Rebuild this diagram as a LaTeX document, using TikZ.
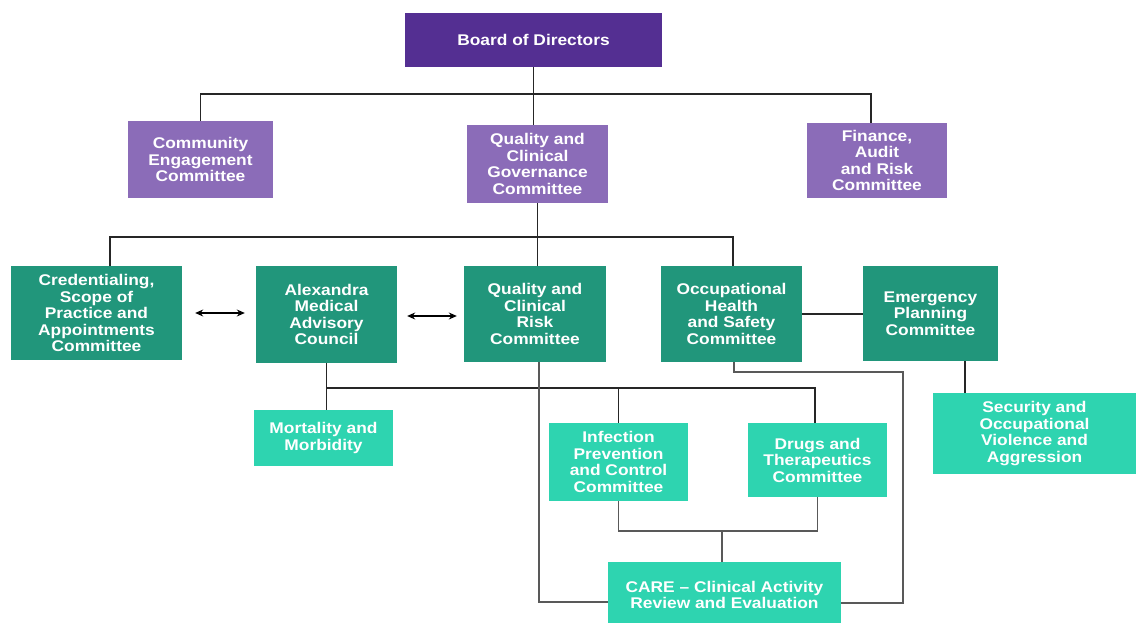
\documentclass[tikz,border=0pt]{standalone}
\usepackage{fontspec}
\setmainfont{Liberation Sans}[FakeStretch=1.12]
\usetikzlibrary{arrows.meta}
\definecolor{boardc}{HTML}{542F92}
\definecolor{lpurple}{HTML}{8B6CB8}
\definecolor{dgreen}{HTML}{21967B}
\definecolor{lgreen}{HTML}{2ED4B0}
\tikzset{
  box/.style={inner sep=0pt, align=center, text=white,
    font=\fontsize{15.5}{16.5}\selectfont\bfseries},
  bd/.style={box, fill=boardc},
  lp/.style={box, fill=lpurple},
  dg/.style={box, fill=dgreen},
  lg/.style={box, fill=lgreen},
  conn/.style={line width=1.1pt, draw=black!85},
  conng/.style={line width=1.1pt, draw=black!65},
  dbl/.style={line width=1.1pt, {Stealth[length=8pt,width=7pt]}-{Stealth[length=8pt,width=7pt]}}
}
\begin{document}
\begin{tikzpicture}[x=1pt,y=-1pt]
\useasboundingbox[fill=white] (0,0) rectangle (1136,623);
% level 1-2
\node[bd, minimum width=257pt, minimum height=54pt] (board) at (533.5,40) {Board of Directors};
\node[lp, minimum width=145pt, minimum height=77pt] (comm) at (200.5,159.5) {Community\\Engagement\\Committee};
\node[lp, minimum width=141pt, minimum height=78pt] (qcg) at (537.5,164) {Quality and\\Clinical\\Governance\\Committee};
\node[lp, minimum width=140pt, minimum height=75pt] (fin) at (877,160.5) {Finance,\\Audit\\and Risk\\Committee};
% level 3
\node[dg, minimum width=171pt, minimum height=94pt] (cred) at (96.5,313) {Credentialing,\\Scope of\\Practice and\\Appointments\\Committee};
\node[dg, minimum width=141pt, minimum height=97pt] (alex) at (326.5,314.5) {Alexandra\\Medical\\Advisory\\Council};
\node[dg, minimum width=142pt, minimum height=96pt] (qcr) at (535,314) {Quality and\\Clinical\\Risk\\Committee};
\node[dg, minimum width=141pt, minimum height=96pt] (ohs) at (731.5,314) {Occupational\\Health\\and Safety\\Committee};
\node[dg, minimum width=135pt, minimum height=95pt] (emerg) at (930.5,313.5) {Emergency\\Planning\\Committee};
% level 4
\node[lg, minimum width=203pt, minimum height=81pt] (sec) at (1034.5,433.5) {Security and\\Occupational\\Violence and\\Aggression};
\node[lg, minimum width=139pt, minimum height=56pt] (mort) at (323.5,438) {Mortality and\\Morbidity};
\node[lg, minimum width=139pt, minimum height=78pt] (inf) at (618.5,462) {Infection\\Prevention\\and Control\\Committee};
\node[lg, minimum width=139pt, minimum height=74pt] (drugs) at (817.5,460) {Drugs and\\Therapeutics\\Committee};
\node[lg, minimum width=233pt, minimum height=66pt] (care) at (724.5,595) {CARE -- Clinical Activity\\Review and Evaluation};
% junctions
\coordinate (h1) at (533,94);
\coordinate (h2) at (535,237);
\coordinate (h3) at (327,388);
\coordinate (h4) at (722,531);
\coordinate (r1) at (903,372);
% connectors
\draw[conn] (board.south) -- (board.south |- qcg.north);
\draw[conn] (comm.north) |- (h1) -| ([xshift=-6pt]fin.north);
\draw[conn] (qcg.south) -- (qcg.south |- qcr.north);
\draw[conn] ([xshift=13.5pt]cred.north) |- (h2) -| ([xshift=1.5pt]ohs.north);
\draw[dbl] ([xshift=13pt]cred.east) -- ([xshift=-11pt]cred.east -| alex.west);
\draw[dbl] ([xshift=10pt,yshift=-1.5pt]alex.east) -- ([xshift=-7pt,yshift=-1.5pt]alex.east -| qcr.west);
\draw[conn] (ohs.east) -- (ohs.east -| emerg.west);
\draw[conn] ([xshift=34.5pt]emerg.south) -- ([xshift=34.5pt]emerg.south |- sec.north);
\draw[conn] (alex.south) -- (alex.south |- mort.north);
\draw[conn] (h3) -| (inf.north);
\draw[conn] (h3) -| ([xshift=-2.5pt]drugs.north);
\draw[conng] (inf.south) |- (h4) -| (drugs.south);
\draw[conng] (h4) -- (h4 |- care.north);
\draw[conng] ([xshift=4pt]qcr.south) |- ([yshift=-7pt]care.west);
\draw[conng] ([xshift=2.5pt]ohs.south) |- (r1) |- ([yshift=-8pt]care.east);
\end{tikzpicture}
\end{document}
